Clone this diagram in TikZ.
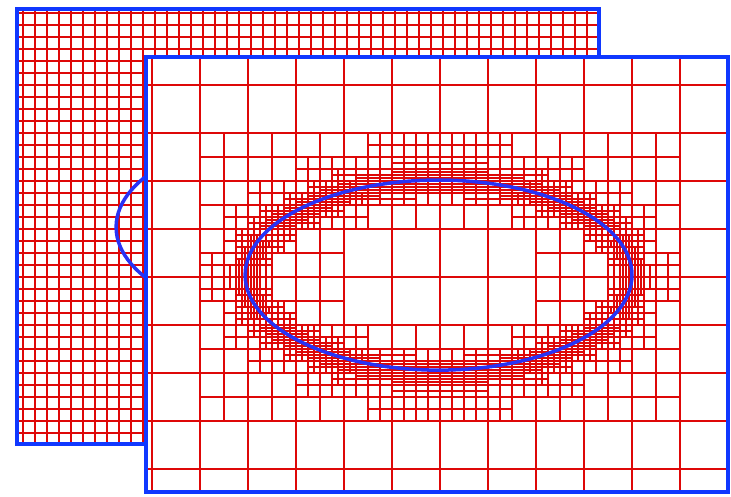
\documentclass[tikz,border=0pt]{standalone}
\definecolor{meshred}{RGB}{222,8,8}
\definecolor{panelblue}{RGB}{16,56,255}
\definecolor{curveblue}{RGB}{40,50,245}
\tikzset{
  mesh/.style={draw=meshred, line width=1.8pt},
  panel/.style={draw=panelblue, line width=4.5pt},
  interface/.style={draw=curveblue, line width=3.5pt},
}
% refine one cell near the ellipse (x/4)^2+(y/2)^2=1,
% the cut lines are collected in \meshpath
\gdef\meshpath{}
\newcommand\meshcell[4]{%
  \begingroup
  \edef\mxa{#1}\edef\mya{#2}\edef\mw{#3}\edef\mh{#4}%
  \pgfmathsetmacro\mcx{\mxa+0.5*\mw}%
  \pgfmathsetmacro\mcy{\mya+0.5*\mh}%
  \pgfmathsetmacro\mhw{0.5*\mw}%
  \pgfmathsetmacro\mhh{0.5*\mh}%
  \pgfmathsetmacro\mgx{(\mcx)/8}%
  \pgfmathsetmacro\mgy{(\mcy)/2}%
  \pgfmathsetmacro\mgn{sqrt((\mgx)^2+(\mgy)^2)+0.01}%
  \pgfmathsetmacro\mdist{abs(((\mcx)/4)^2+((\mcy)/2)^2-1)/\mgn}%
  \pgfmathtruncatemacro\msx{and(\mdist<1.3*\mw+0.06, \mw*(abs(\mgx)/\mgn+0.3)>0.13)}%
  \pgfmathtruncatemacro\msy{and(\mdist<1.3*\mh+0.06, \mh*(abs(\mgy)/\mgn+0.3)>0.13)}%
  \ifnum\msx=1 \xdef\meshpath{\meshpath (\mcx,\mya) -- ++(0,\mh)}\fi
  \ifnum\msy=1 \xdef\meshpath{\meshpath (\mxa,\mcy) -- ++(\mw,0)}\fi
  \ifnum\msx=1
    \ifnum\msy=1
      \meshcell{\mxa}{\mya}{\mhw}{\mhh}\meshcell{\mcx}{\mya}{\mhw}{\mhh}%
      \meshcell{\mxa}{\mcy}{\mhw}{\mhh}\meshcell{\mcx}{\mcy}{\mhw}{\mhh}%
    \else
      \meshcell{\mxa}{\mya}{\mhw}{\mh}\meshcell{\mcx}{\mya}{\mhw}{\mh}%
    \fi
  \else
    \ifnum\msy=1
      \meshcell{\mxa}{\mya}{\mw}{\mhh}\meshcell{\mxa}{\mcy}{\mw}{\mhh}%
    \fi
  \fi
  \endgroup}
\begin{document}
\begin{tikzpicture}[scale=1.68701]
\useasboundingbox (-9.1667,-4.5625) rectangle (6.0625,5.7708);

% back panel: uniform mesh
\begin{scope}[shift={(-2.6875,1)}]
  \begin{scope}
    \clip (-6.125,-4.479) rectangle (6,4.583);
    \draw[mesh, step=0.25] (-6.5,-4.5) grid (6,4.75);
    \draw[interface] (-0.03,0.04) ellipse [x radius=4.03, y radius=1.98];
  \end{scope}
  \draw[panel] (-6.125,-4.479) rectangle (6,4.583);
\end{scope}

% front panel: adapted mesh
\foreach \i in {-5,...,4} {
  \foreach \j in {-3,...,2} {\meshcell{\i}{\j}{1}{1}}
}
\begin{scope}
  \fill[white] (-6.125,-4.479) rectangle (6,4.583);
  \clip (-6.125,-4.479) rectangle (6,4.583);
  \draw[mesh] (-7,-5) grid (6,5);
  \draw[mesh] \meshpath;
  \draw[interface] (-0.03,0.04) ellipse [x radius=4.03, y radius=1.98];
\end{scope}
\draw[panel] (-6.125,-4.479) rectangle (6,4.583);
\end{tikzpicture}
\end{document}
